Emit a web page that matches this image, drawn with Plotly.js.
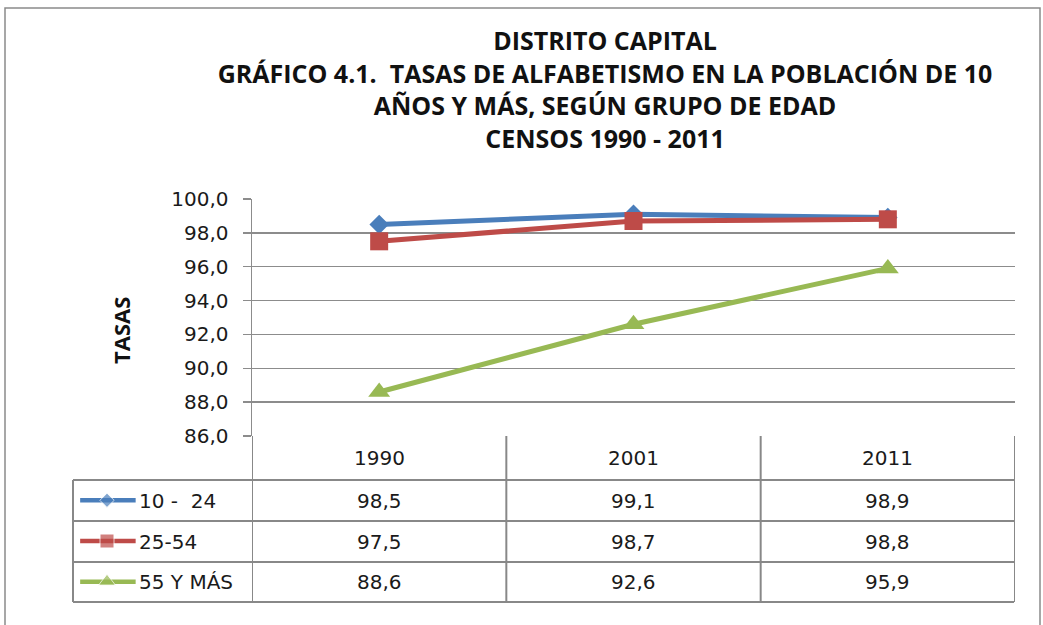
<!DOCTYPE html>
<html><head><meta charset="utf-8">
<script src="https://cdn.plot.ly/plotly-3.0.1.min.js"></script>
<style>html,body{margin:0;padding:0;background:#fff}#c{width:1043px;height:625px}</style>
</head><body><div id="c"></div>
<script>
const years = ['1990', '2001', '2011'];
const seriesNames = ['10 -\u00a0\u00a024', '25-54', '55 Y MÁS'];
const s1 = [98.5, 99.1, 98.9];
const s2 = [97.5, 98.7, 98.8];
const s3 = [88.6, 92.6, 95.9];
const yTicks = [86, 88, 90, 92, 94, 96, 98, 100];

const W = 1043, H = 625;
const px = x => x / W, py = y => 1 - y / H;
const colors = ['#4A7EBB', '#BE4B48', '#98B954'];
const symbols = ['diamond', 'square', 'triangle-up'];
const msize = [15, 18, 19];
const series = [s1, s2, s3];
const NUMFONT = '"DejaVu Sans", sans-serif';
const TFONT = '"Open Sans", sans-serif';
const xi = years.map((_, i) => i);

const traces = series.map((s, k) => ({
  x: xi, y: s, type: 'scatter', mode: 'lines+markers', name: seriesNames[k],
  line: {color: colors[k], width: 5}, marker: {symbol: symbols[k], size: msize[k], color: colors[k]},
  xaxis: 'x', yaxis: 'y', showlegend: false, hoverinfo: 'skip'
}));
// legend keys in the table's first column
series.forEach((s, k) => {
  traces.push({
    x: [0.04, 0.19, 0.35], y: [2.5 - k, 2.5 - k, 2.5 - k], type: 'scatter', mode: 'lines+markers',
    line: {color: colors[k], width: 4.5}, marker: {symbol: symbols[k], size: [0, msize[k] - 4, 0], color: colors[k]},
    xaxis: 'x2', yaxis: 'y2', showlegend: false, hoverinfo: 'skip'
  });
});

const plotL = 252, plotR = 1015, plotT = 199, plotB = 436;
const rowY = [436, 480, 521, 562, 602];
const legL = 73;
const gray = '#888888';
const shapes = [];
const annotations = [];
// outer border
shapes.push({type: 'rect', xref: 'paper', yref: 'paper', x0: px(5), x1: px(1040), y0: py(8), y1: py(640), line: {color: '#8a8a8a', width: 1.5}});
// table horizontal lines
rowY.slice(1).forEach(y => shapes.push({type: 'line', xref: 'paper', yref: 'paper', x0: px(legL), x1: px(1014), y0: py(y), y1: py(y), line: {color: gray, width: 2}}));
// table vertical lines at category boundaries
for (let i = 0; i <= years.length; i++) {
  shapes.push({type: 'line', xref: 'x', yref: 'paper', x0: i - 0.5, x1: i - 0.5, y0: py(rowY[0]), y1: py(rowY[4]), line: {color: gray, width: 2}});
}
shapes.push({type: 'line', xref: 'paper', yref: 'paper', x0: px(legL), x1: px(legL), y0: py(rowY[1]), y1: py(rowY[4]), line: {color: gray, width: 2}});

const tfont = {family: NUMFONT, size: 20, color: '#1a1a1a'};
years.forEach((yr, i) => annotations.push({xref: 'x', yref: 'paper', x: i, y: py((rowY[0] + rowY[1]) / 2), text: yr, showarrow: false, font: tfont, xanchor: 'center', yanchor: 'middle'}));
series.forEach((s, k) => {
  const yc = py((rowY[k + 1] + rowY[k + 2]) / 2);
  s.forEach((v, i) => annotations.push({xref: 'x', yref: 'paper', x: i, y: yc, text: v.toFixed(1).replace('.', ','), showarrow: false, font: tfont, xanchor: 'center', yanchor: 'middle'}));
  annotations.push({xref: 'paper', yref: 'paper', x: px(137), y: yc, text: seriesNames[k], showarrow: false, font: tfont, xanchor: 'left', yanchor: 'middle'});
});
annotations.push({xref: 'paper', yref: 'paper', x: px(121), y: py(331), text: '<b>TASAS</b>', textangle: -90, showarrow: false, font: {family: TFONT, size: 22, color: '#111'}, xanchor: 'center', yanchor: 'middle'});

const layout = {
  width: W, height: H, margin: {l: 0, r: 0, t: 0, b: 0},
  paper_bgcolor: '#fff', plot_bgcolor: '#fff', separators: ',.',
  font: {family: NUMFONT, color: '#1a1a1a'},
  title: {text: '<b>DISTRITO CAPITAL<br>GRÁFICO 4.1.  TASAS DE ALFABETISMO EN LA POBLACIÓN DE 10<br>AÑOS Y MÁS, SEGÚN GRUPO DE EDAD<br>CENSOS 1990 - 2011</b>',
    x: px(605), xanchor: 'center', y: py(50), yanchor: 'top', yref: 'paper', font: {family: TFONT, size: 25, color: '#111'}},
  xaxis: {domain: [px(plotL), px(plotR)], range: [-0.5, 2.5], showticklabels: false, showgrid: false, zeroline: false, showline: false, fixedrange: true},
  yaxis: {domain: [py(plotB), py(plotT)], range: [86, 100], tickvals: yTicks, tickformat: '.1f', showgrid: true, gridcolor: '#8c8c8c', gridwidth: 1.5,
    zeroline: false, showline: true, linecolor: '#8c8c8c', linewidth: 1.5, ticks: 'outside', ticklen: 8, tickcolor: '#8c8c8c', tickwidth: 1.5,
    tickfont: {family: NUMFONT, size: 20, color: '#1a1a1a'}, ticklabelstandoff: 10, fixedrange: true},
  xaxis2: {domain: [px(legL), px(plotL)], range: [0, 1], visible: false, fixedrange: true, anchor: 'y2'},
  yaxis2: {domain: [py(rowY[4]), py(rowY[1])], range: [0, 3], visible: false, fixedrange: true, anchor: 'x2'},
  shapes: shapes, annotations: annotations, showlegend: false
};

Plotly.newPlot('c', traces, layout, {staticPlot: true, displayModeBar: false});
</script></body></html>
